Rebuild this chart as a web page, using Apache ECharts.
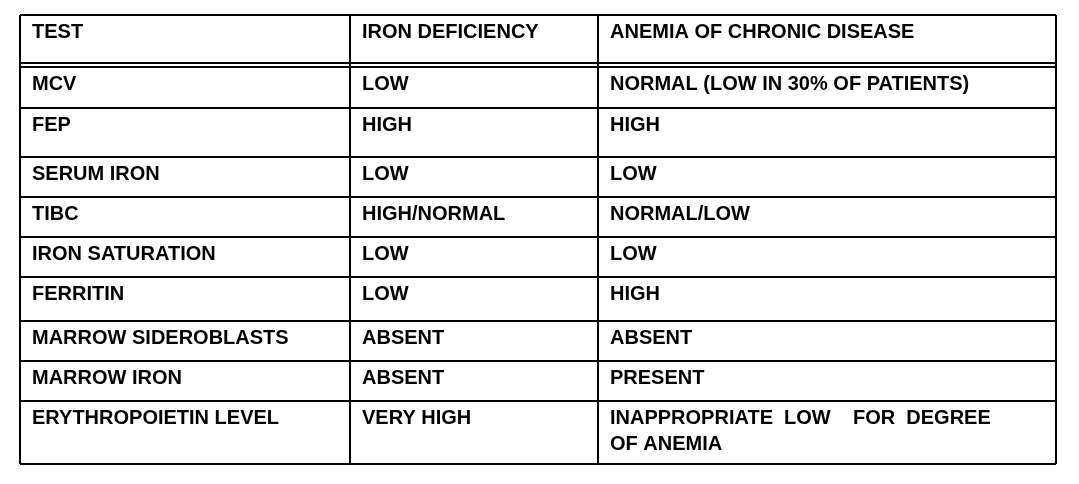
<!DOCTYPE html>
<html>
<head>
<meta charset="utf-8">
<script src="https://cdn.jsdelivr.net/npm/echarts@6/dist/echarts.min.js"></script>
<style>html,body{margin:0;padding:0;background:#fff}#main{width:1079px;height:484px}</style>
</head>
<body>
<div id="main"></div>
<script>
var headers = ['TEST', 'IRON DEFICIENCY', 'ANEMIA OF CHRONIC DISEASE'];
var tests = ['MCV', 'FEP', 'SERUM IRON', 'TIBC', 'IRON SATURATION', 'FERRITIN', 'MARROW SIDEROBLASTS', 'MARROW IRON', 'ERYTHROPOIETIN LEVEL'];
var ironDef = ['LOW', 'HIGH', 'LOW', 'HIGH/NORMAL', 'LOW', 'LOW', 'ABSENT', 'ABSENT', 'VERY HIGH'];
var chronic = ['NORMAL (LOW IN 30% OF PATIENTS)', 'HIGH', 'LOW', 'NORMAL/LOW', 'LOW', 'HIGH', 'ABSENT', 'PRESENT',
  'INAPPROPRIATE  LOW    FOR  DEGREE\nOF ANEMIA'];

// layout
var colX = [20, 350, 598, 1056];
var rowY = [67, 108, 157, 197, 237, 277, 321, 361, 401, 464];
var tableTop = 15;

var g = [];
function line(x1, y1, x2, y2) {
  g.push({type: 'line', shape: {x1: x1, y1: y1, x2: x2, y2: y2}, style: {stroke: '#000', lineWidth: 2}});
}
function txt(x, y, s) {
  g.push({type: 'text', x: x, y: y, style: {text: s, fill: '#000', font: 'bold 20px "Liberation Sans", Arial, sans-serif', lineHeight: 26, verticalAlign: 'top'}});
}
// outer + columns
line(colX[0], tableTop, colX[3], tableTop);
colX.forEach(function (x) { line(x, tableTop, x, rowY[rowY.length - 1]); });
line(colX[0], 63, colX[3], 63);
rowY.forEach(function (y) { line(colX[0], y, colX[3], y); });

headers.forEach(function (h, i) { txt(colX[i] + 12, tableTop + 4, h); });
tests.forEach(function (t, r) {
  var y = rowY[r] + 4;
  txt(colX[0] + 12, y, t);
  txt(colX[1] + 12, y, ironDef[r]);
  txt(colX[2] + 12, y, chronic[r]);
});

var chart = echarts.init(document.getElementById('main'));
chart.setOption({animation: false, graphic: g});
</script>
</body>
</html>
